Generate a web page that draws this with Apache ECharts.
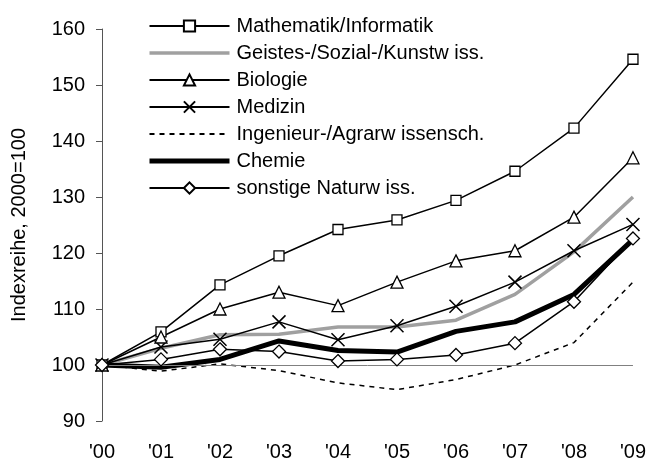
<!DOCTYPE html>
<html>
<head>
<meta charset="utf-8">
<script src="https://cdn.jsdelivr.net/npm/echarts@6/dist/echarts.min.js"></script>
<style>
  html, body { margin: 0; padding: 0; background: #fff; }
  #main { width: 649px; height: 463px; }
</style>
</head>
<body>
<div id="main"></div>
<script>
// Jahre (Kategorien)
var years = ["'00", "'01", "'02", "'03", "'04", "'05", "'06", "'07", "'08", "'09"];

// Indexwerte, 2000 = 100
var mathematik = [100, 105.9, 114.3, 119.5, 124.2, 125.9, 129.4, 134.6, 142.3, 154.6];
var geistes    = [100, 103.0, 105.4, 105.5, 106.8, 106.8, 108.0, 112.6, 120.2, 130.0];
var biologie   = [100, 105.0, 110.0, 113.0, 110.6, 114.8, 118.6, 120.4, 126.4, 137.0];
var medizin    = [100, 103.2, 104.6, 107.7, 104.5, 107.0, 110.5, 114.8, 120.4, 125.1];
var ingenieur  = [100, 98.9, 100.2, 99.0, 96.8, 95.6, 97.4, 100.0, 104.0, 114.8];
var chemie     = [100, 99.6, 101.0, 104.3, 102.6, 102.3, 106.0, 107.7, 112.6, 122.4];
var sonstige   = [100, 101.0, 102.8, 102.4, 100.7, 101.0, 101.8, 103.9, 111.3, 122.6];

var names = [
  'Mathematik/Informatik',
  'Geistes-/Sozial-/Kunstw iss.',
  'Biologie',
  'Medizin',
  'Ingenieur-/Agrarw issensch.',
  'Chemie',
  'sonstige Naturw iss.'
];

var myChart = echarts.init(document.getElementById('main'));

var font = 'Liberation Sans, Arial, sans-serif';
var markerStyle = { color: '#fff', borderColor: '#000', borderWidth: 1.3 };
var noMarker = { opacity: 0 };

var option = {
  animation: false,
  textStyle: { fontFamily: font },
  legend: {
    orient: 'vertical',
    left: 142,
    top: 11,
    itemWidth: 80,
    itemHeight: 14,
    itemGap: 7,
    textStyle: { fontSize: 20, color: '#000', fontFamily: font, padding: [0, 0, 0, 2] },
    data: [
      { name: names[0] },
      { name: names[1], itemStyle: noMarker, lineStyle: { width: 3.5, color: '#a0a0a0' } },
      { name: names[2] },
      { name: names[3] },
      { name: names[4], itemStyle: noMarker },
      { name: names[5], itemStyle: noMarker, lineStyle: { width: 5, color: '#000' } },
      { name: names[6] }
    ]
  },
  grid: { left: 102, right: 16, top: 29, bottom: 42, containLabel: false },
  xAxis: {
    type: 'category',
    data: years,
    boundaryGap: false,
    axisLine: { show: false },
    axisTick: { show: false },
    axisLabel: { color: '#000', fontSize: 20, margin: 21, fontFamily: font }
  },
  yAxis: {
    type: 'value',
    min: 90,
    max: 160,
    interval: 10,
    name: 'Indexreihe, 2000=100',
    nameLocation: 'middle',
    nameGap: 73,
    nameTextStyle: { fontSize: 20, color: '#000', fontFamily: font },
    axisLine: { show: true, lineStyle: { color: '#555', width: 1 } },
    axisTick: { show: true, length: 6, lineStyle: { color: '#555' } },
    axisLabel: { color: '#000', fontSize: 20, margin: 17, fontFamily: font },
    splitLine: { show: false }
  },
  series: [
    {
      name: names[0], type: 'line', data: mathematik,
      symbol: 'rect', symbolSize: 10, showSymbol: true,
      lineStyle: { color: '#000', width: 1.5 },
      itemStyle: markerStyle, z: 5,
      markLine: {
        silent: true, symbol: 'none', label: { show: false },
        lineStyle: { color: '#808080', width: 1, type: 'solid' },
        data: [{ yAxis: 100 }]
      }
    },
    {
      name: names[1], type: 'line', data: geistes,
      symbol: 'none',
      lineStyle: { color: '#a0a0a0', width: 3.5 },
      itemStyle: { color: '#a0a0a0' }, z: 2
    },
    {
      name: names[2], type: 'line', data: biologie,
      symbol: 'triangle', symbolSize: 12,
      lineStyle: { color: '#000', width: 1.5 },
      itemStyle: markerStyle, z: 5
    },
    {
      name: names[3], type: 'line', data: medizin,
      symbol: 'path://M0,0L10,10M10,0L0,10', symbolSize: 13,
      lineStyle: { color: '#000', width: 1.5 },
      itemStyle: { color: 'none', borderColor: '#000', borderWidth: 1.5 }, z: 4
    },
    {
      name: names[4], type: 'line', data: ingenieur,
      symbol: 'none',
      lineStyle: { color: '#000', width: 1.5, type: [5, 5] },
      itemStyle: { color: '#000' }, z: 3
    },
    {
      name: names[5], type: 'line', data: chemie,
      symbol: 'none',
      lineStyle: { color: '#000', width: 5 },
      itemStyle: { color: '#000' }, z: 3
    },
    {
      name: names[6], type: 'line', data: sonstige,
      symbol: 'diamond', symbolSize: 13,
      lineStyle: { color: '#000', width: 1.5 },
      itemStyle: markerStyle, z: 6
    }
  ]
};

myChart.setOption(option);
</script>
</body>
</html>
